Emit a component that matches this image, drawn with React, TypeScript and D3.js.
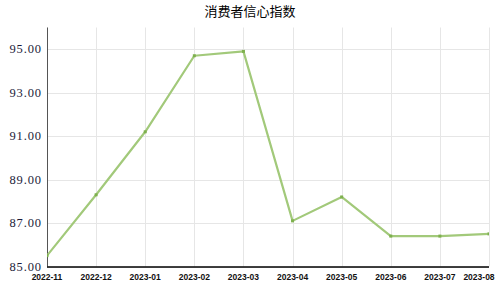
import React from "react";
import * as d3 from "d3";

const months = [
  "2022-11", "2022-12", "2023-01", "2023-02", "2023-03",
  "2023-04", "2023-05", "2023-06", "2023-07", "2023-08",
];
const confidence = [85.5, 88.3, 91.2, 94.7, 94.9, 87.1, 88.2, 86.4, 86.4, 86.5];
const yTicks = [85, 87, 89, 91, 93, 95];
const title = "消费者信心指数";

const W = 500;
const H = 300;
const left = 47;
const right = 489;
const top = 27.5;
const bottom = 266.5;

export default function App() {
  const x = d3.scalePoint<string>().domain(months).range([left, right]);
  const y = d3.scaleLinear().domain([85, 96]).range([bottom, top]);
  const line = d3
    .line<number>()
    .x((_, i) => x(months[i]) as number)
    .y((d) => y(d));
  const fmt = d3.format(".2f");

  return (
    <svg
      width={W}
      height={H}
      style={{ position: "absolute", left: 0, top: 0, background: "#fff" }}
    >
      <defs>
        <clipPath id="plot">
          <rect x={left} y={top} width={right - left} height={bottom - top} />
        </clipPath>
      </defs>
      <text
        x={250}
        y={16}
        textAnchor="middle"
        fontFamily="'Noto Sans CJK SC', sans-serif"
        fontSize={13}
        fill="#000"
      >
        {title}
      </text>

      {/* grid */}
      {months.map((m) => (
        <line
          key={m}
          x1={Math.round(x(m) as number) + 0.5}
          x2={Math.round(x(m) as number) + 0.5}
          y1={top}
          y2={bottom}
          stroke="#e6e6e6"
          strokeWidth={1}
        />
      ))}
      {yTicks.map((t) => (
        <line
          key={t}
          x1={left}
          x2={right}
          y1={Math.round(y(t)) + 0.5}
          y2={Math.round(y(t)) + 0.5}
          stroke="#e6e6e6"
          strokeWidth={1}
        />
      ))}

      {/* axes */}
      <line x1={left + 0.5} x2={left + 0.5} y1={top} y2={bottom} stroke="#555" strokeWidth={1} />
      <line x1={left} x2={right} y1={bottom + 0.5} y2={bottom + 0.5} stroke="#000" strokeWidth={1.6} />

      {yTicks.map((t) => (
        <text
          key={t}
          x={42}
          y={y(t) + 4}
          textAnchor="end"
          fontFamily="'Liberation Serif', serif"
          fontSize={12.5}
          letterSpacing={0.9}
          fill="#1c1c3a"
        >
          {fmt(t)}
        </text>
      ))}

      {months.map((m) => {
        const cx = Math.min(x(m) as number, W - 6 - 15);
        return (
          <text
            key={m}
            x={cx}
            y={280}
            textAnchor="middle"
            fontFamily="'Liberation Sans', sans-serif"
            fontWeight="bold"
            fontSize={8.5}
            fill="#111"
          >
            {m}
          </text>
        );
      })}

      {/* series */}
      <g clipPath="url(#plot)">
        <path
          d={line(confidence) ?? ""}
          fill="none"
          stroke="#a2c97a"
          strokeWidth={2.2}
          strokeLinejoin="round"
        />
        {confidence.map((v, i) => (
          <rect
            key={months[i]}
            x={(x(months[i]) as number) - 1.5}
            y={y(v) - 1.5}
            width={3}
            height={3}
            fill="#7eb04e"
          />
        ))}
      </g>
    </svg>
  );
}
